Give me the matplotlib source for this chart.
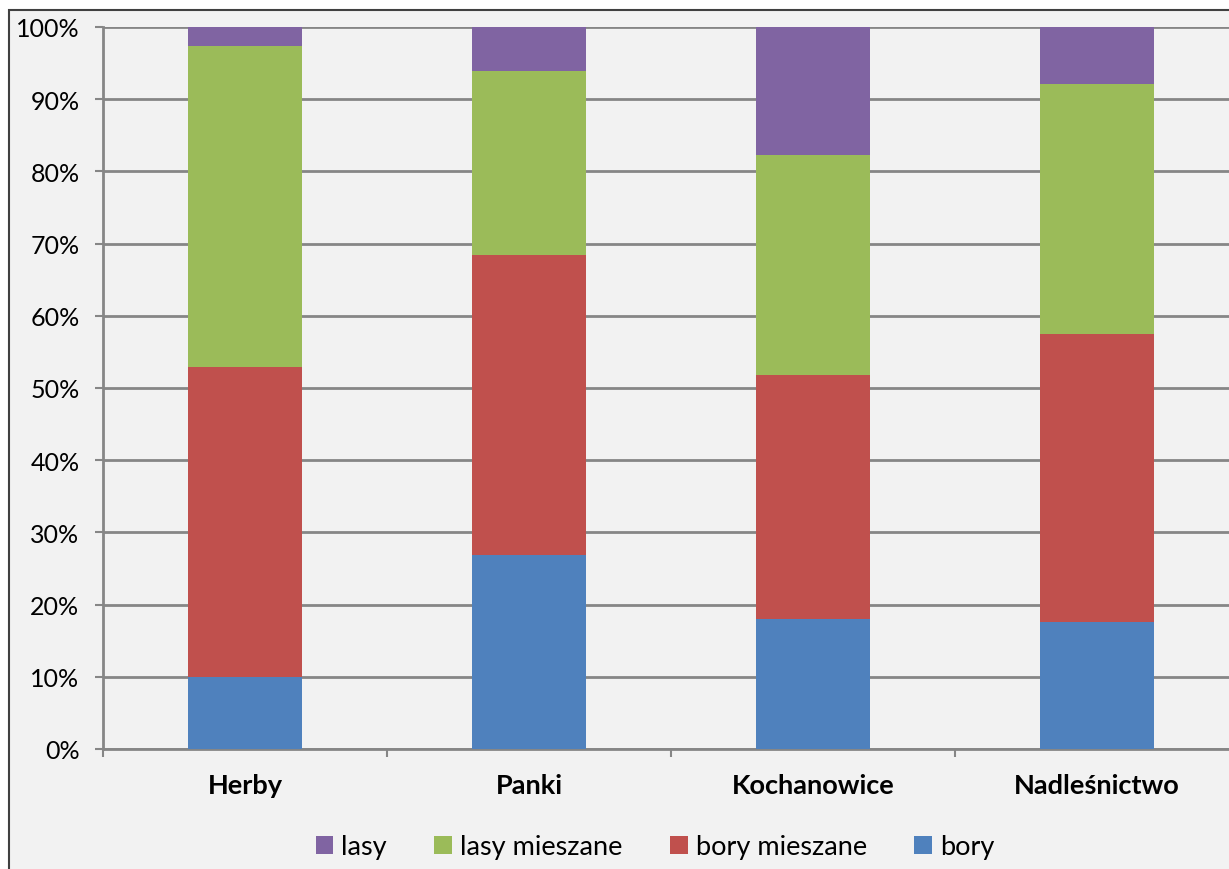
import matplotlib.pyplot as plt
from matplotlib.patches import Rectangle
import numpy as np

# forest site types per area, percent share
areas = ['Herby', 'Panki', 'Kochanowice', 'Nadleśnictwo']
bory = [10.0, 26.9, 18.0, 17.6]
bory_mieszane = [42.9, 41.5, 33.8, 39.9]
lasy_mieszane = [44.5, 25.5, 30.5, 34.6]
lasy = [2.6, 6.1, 17.7, 7.9]

series = [('bory', bory, '#4F81BD'),
          ('bory mieszane', bory_mieszane, '#C0504D'),
          ('lasy mieszane', lasy_mieszane, '#9BBB59'),
          ('lasy', lasy, '#8064A2')]

plt.rcParams['font.family'] = ['Lato', 'DejaVu Sans']

W, H = 1229, 870
fig = plt.figure(figsize=(W / 100, H / 100), dpi=100, facecolor='white')

# chart area frame (runs off the right and bottom edges)
frame = Rectangle((9 / W, -0.1), 1.2, (H - 11) / H + 0.1,
                  transform=fig.transFigure, facecolor='#F2F2F2',
                  edgecolor='#404040', lw=1.5, zorder=-10)
fig.patches.append(frame)

ax = fig.add_axes([103 / W, (H - 750) / H, (1239 - 103) / W, (750 - 28) / H])
ax.set_facecolor('none')

x = np.arange(len(areas))
bottom = np.zeros(len(areas))
handles = {}
for name, vals, col in series:
    b = ax.bar(x, vals, 0.4, bottom=bottom, color=col, zorder=3)
    handles[name] = b
    bottom += np.array(vals)

ax.set_xlim(-0.5, len(areas) - 0.5)
ax.set_ylim(0, 100)
ax.set_yticks(np.arange(0, 101, 10))
ax.set_yticklabels(['%d%%' % v for v in range(0, 101, 10)], fontsize=18)
ax.yaxis.grid(True, color='#868686', lw=2, zorder=1)

ax.set_xticks(x)
ax.set_xticklabels(areas, fontsize=19.5, fontweight='bold')
ax.set_xticks(np.arange(-0.5, len(areas), 1), minor=True)
ax.tick_params(axis='x', which='major', length=0, pad=17)
ax.tick_params(axis='x', which='minor', length=6, color='#868686', width=1.5)
ax.tick_params(axis='y', length=6, color='#868686', width=1.5, pad=11)

for s in ['top', 'right']:
    ax.spines[s].set_visible(False)
for s in ['left', 'bottom']:
    ax.spines[s].set_color('#868686')
    ax.spines[s].set_linewidth(2)

order = ['lasy', 'lasy mieszane', 'bory mieszane', 'bory']
fig.legend([handles[n] for n in order], order, loc='center',
           bbox_to_anchor=(655 / W, (H - 848) / H), ncol=4, frameon=False,
           fontsize=19.5, handlelength=0.65, handleheight=0.65, handletextpad=0.3,
           columnspacing=1.75)

fig.savefig('out.png', dpi=100, facecolor='white')
